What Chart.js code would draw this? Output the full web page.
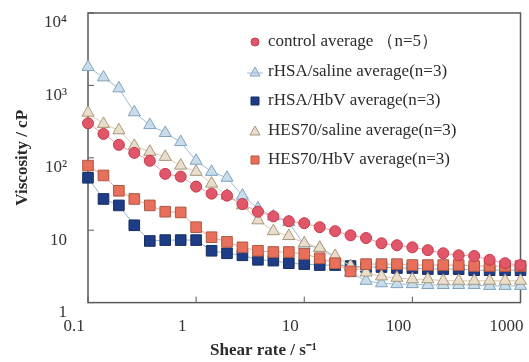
<!DOCTYPE html>
<html>
<head>
<meta charset="utf-8">
<script src="https://cdn.jsdelivr.net/npm/chart.js@4.4.0/dist/chart.umd.min.js"></script>
<style>
  body { margin: 0; background: #fff; }
</style>
</head>
<body>
<canvas id="viscosity-chart" width="529" height="362"></canvas>
<script>
// shear rate steps (7 per decade, 0.1 to 1000 s-1)
var shearRate = [0.1, 0.139, 0.193, 0.268, 0.373, 0.518, 0.72, 1, 1.39, 1.93, 2.68, 3.73, 5.18, 7.2,
                 10, 13.9, 19.3, 26.8, 37.3, 51.8, 72, 100, 139, 193, 268, 373, 518, 720, 1000];

// viscosity (cP)
var controlAvg = [300, 214, 151, 117, 91, 60, 55, 40, 32, 30, 23, 18, 15.5, 13.3,
                  12.5, 11, 9.7, 8.5, 7.8, 6.6, 6.2, 5.8, 5.3, 4.8, 4.5, 4.4, 3.9, 3.5, 3.3];
var rhsaSalineAvg = [1800, 1290, 910, 425, 283, 220, 165, 91, 64, 53, 30, 20, 15.5, 12.9,
                     6.2, 5.7, 4.1, 2.6, 2.0, 1.85, 1.8, 1.8, 1.75, 1.75, 1.75, 1.75, 1.7, 1.7, 1.7];
var rhsaHbvAvg = [53, 27, 22, 11.7, 7.1, 7.3, 7.3, 7.3, 5.2, 4.8, 4.5, 3.9, 3.8, 3.5,
                  3.4, 3.3, 3.3, 3.2, 3.1, 3.1, 3.0, 3.0, 2.9, 2.9, 2.9, 2.8, 2.8, 2.8, 2.8];
var hesSalineAvg = [420, 294, 240, 146, 121, 103, 78, 64, 44, 30, 22, 13.7, 9.7, 8.3,
                    6.6, 5.7, 4.4, 3.2, 2.6, 2.3, 2.2, 2.1, 2.1, 2.0, 2.0, 2.0, 2.0, 2.0, 2.0];
var hesHbvAvg = [78, 57, 35, 27, 22, 18, 17.6, 11, 8.0, 6.9, 5.8, 5.2, 5.0, 5.0,
                 4.7, 4.1, 3.5, 2.7, 3.4, 3.4, 3.4, 3.3, 3.3, 3.3, 3.3, 3.2, 3.2, 3.2, 3.2];

var seriesLabels = ["control average \uFF08n=5\uFF09", "rHSA/saline average(n=3)", "rHSA/HbV average(n=3)",
                    "HES70/saline average(n=3)", "HES70/HbV average(n=3)"];

var xTicks = [0.1, 1, 10, 100, 1000];
var xTickLabels = ["0.1", "1", "10", "100", "1000"];
var yTicks = [1, 10, 100, 1000, 10000];
var yTickLabels = ["1", "10", "10\u00B2", "10\u00B3", "10\u2074"];

var serif = "'Liberation Serif', 'Times New Roman', serif";

function pts(values) {
    return values.map(function(v, i) { return { x: shearRate[i], y: v }; });
}

function series(label, values, shape, fill, edge, line, radius, order) {
    return {
        label: label,
        data: pts(values),
        pointStyle: shape,
        pointRadius: radius,
        pointBackgroundColor: fill,
        pointBorderColor: edge,
        pointBorderWidth: 1,
        borderColor: line,
        borderWidth: 1,
        backgroundColor: fill,
        fill: false,
        tension: 0,
        clip: false,
        order: order
    };
}

var datasets = [
    series(seriesLabels[0], controlAvg, "circle", "#e2566a", "#c43a4c", "#eba3ad", 5.5, 0),
    series(seriesLabels[1], rhsaSalineAvg, "triangle", "#c9dcea", "#7fa3bf", "#9fbcd3", 7, 4),
    series(seriesLabels[2], rhsaHbvAvg, "rect", "#1f3d86", "#172d62", "#93b4d2", 7.5, 3),
    series(seriesLabels[3], hesSalineAvg, "triangle", "#e9ddcc", "#a8977a", "#d8caae", 7, 2),
    series(seriesLabels[4], hesHbvAvg, "rect", "#e8705a", "#ad5844", "#e6a898", 7.5, 1)
];

// frame round the plot and short inward tick marks
var framePlugin = {
    id: "frame",
    beforeDatasetsDraw: function(chart) {
        var ctx = chart.ctx, a = chart.chartArea;
        ctx.save();
        ctx.strokeStyle = "#5a5a5a";
        ctx.lineWidth = 1.5;
        ctx.strokeRect(a.left, a.top, a.right - a.left, a.bottom - a.top);
        ctx.lineWidth = 1;
        ctx.beginPath();
        xTicks.forEach(function(t) {
            var px = chart.scales.x.getPixelForValue(t);
            ctx.moveTo(px, a.bottom);
            ctx.lineTo(px, a.bottom - 6);
        });
        yTicks.forEach(function(t) {
            var py = chart.scales.y.getPixelForValue(t);
            ctx.moveTo(a.left, py);
            ctx.lineTo(a.left + 6, py);
        });
        ctx.stroke();
        ctx.restore();
    }
};

// legend sits inside the plot, top right
var legendPlugin = {
    id: "innerLegend",
    afterDraw: function(chart) {
        var ctx = chart.ctx;
        var mx = 255, tx = 268;
        var rows = [42, 72, 101, 131, 160];
        ctx.save();
        chart.data.datasets.forEach(function(ds, i) {
            var y = rows[i];
            ctx.fillStyle = ds.pointBackgroundColor;
            ctx.strokeStyle = ds.pointBorderColor;
            ctx.lineWidth = 1;
            ctx.beginPath();
            if (ds.pointStyle === "circle") {
                ctx.arc(mx, y, 4, 0, Math.PI * 2);
            } else if (ds.pointStyle === "rect") {
                ctx.rect(mx - 4, y - 4, 8, 8);
            } else {
                ctx.moveTo(mx, y - 5);
                ctx.lineTo(mx + 5, y + 4);
                ctx.lineTo(mx - 5, y + 4);
                ctx.closePath();
            }
            ctx.fill();
            ctx.stroke();
            if (i === 1) {
                ctx.strokeStyle = ds.borderColor;
                ctx.beginPath();
                ctx.moveTo(mx - 8, y + 1);
                ctx.lineTo(mx + 8, y + 1);
                ctx.stroke();
            }
            ctx.fillStyle = "#2b2b2b";
            ctx.font = "17px " + serif;
            ctx.textAlign = "left";
            ctx.textBaseline = "middle";
            ctx.fillText(ds.label, tx, y);
        });
        ctx.restore();
    }
};

var ctx = document.getElementById("viscosity-chart");

var chart = new Chart(ctx, {
    type: "line",
    data: { datasets: datasets },
    options: {
        responsive: false,
        animation: false,
        layout: { padding: { left: 0, top: 13, right: 2, bottom: 0 } },
        plugins: {
            legend: { display: false },
            tooltip: { enabled: false },
            title: {
                display: true,
                position: "bottom",
                text: "Shear rate / s\u207B\u00B9",
                color: "#2b2b2b",
                font: { family: serif, size: 17, weight: "bold" },
                padding: { top: 0, bottom: 1 }
            }
        },
        scales: {
            x: {
                type: "logarithmic",
                min: 0.1,
                max: 1000,
                afterBuildTicks: function(scale) {
                    scale.ticks = xTicks.map(function(v) { return { value: v }; });
                },
                afterFit: function(scale) {
                    scale.height = 38;
                    scale.paddingLeft = 0;
                    scale.paddingRight = 0;
                },
                grid: { display: false, drawTicks: false },
                border: { display: false },
                ticks: {
                    autoSkip: false,
                    maxRotation: 0,
                    padding: 14,
                    labelOffset: -14,
                    color: "#333",
                    font: { family: serif, size: 17 },
                    callback: function(v) { return xTickLabels[xTicks.indexOf(v)]; }
                }
            },
            y: {
                type: "logarithmic",
                min: 1,
                max: 10000,
                afterBuildTicks: function(scale) {
                    scale.ticks = yTicks.map(function(v) { return { value: v }; });
                },
                afterFit: function(scale) {
                    scale.width = 88;
                    scale.paddingTop = 0;
                    scale.paddingBottom = 0;
                },
                grid: { display: false, drawTicks: false },
                border: { display: false },
                title: {
                    display: true,
                    text: "Viscosity / cP",
                    color: "#2b2b2b",
                    font: { family: serif, size: 17, weight: "bold" },
                    padding: { top: 12, bottom: 0 }
                },
                ticks: {
                    autoSkip: false,
                    padding: 21,
                    labelOffset: 10,
                    color: "#333",
                    font: { family: serif, size: 17 },
                    callback: function(v) { return yTickLabels[yTicks.indexOf(v)]; }
                }
            }
        }
    },
    plugins: [framePlugin, legendPlugin]
});
</script>
</body>
</html>
